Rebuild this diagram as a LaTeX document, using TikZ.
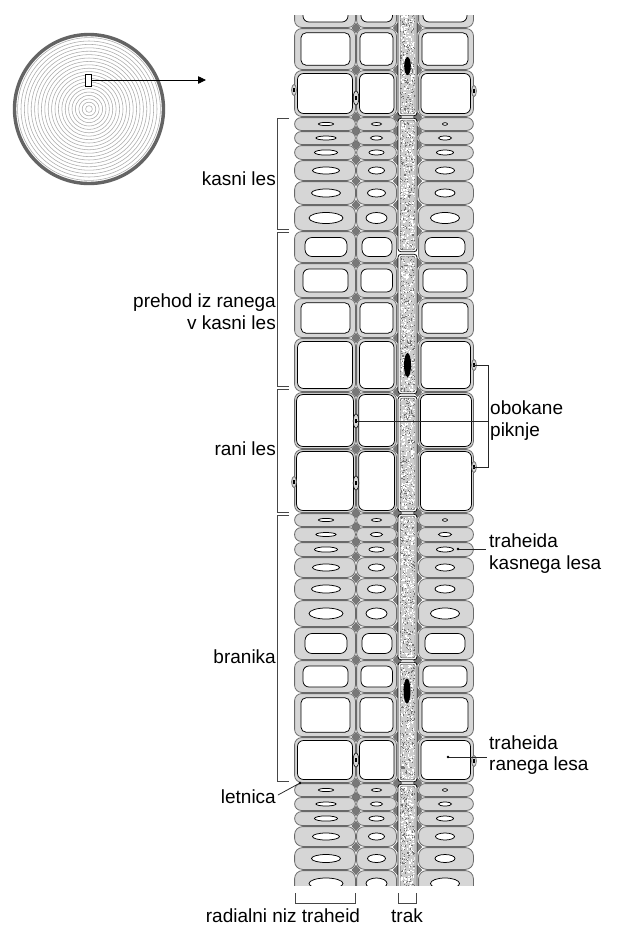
\documentclass[tikz,border=0pt]{standalone}
\usepackage{fontspec}
\setmainfont{Liberation Sans}
\usetikzlibrary{arrows.meta}
\definecolor{wallc}{RGB}{214,214,214}
\definecolor{walld}{RGB}{105,105,105}
\definecolor{diamc}{RGB}{120,120,120}
\definecolor{barkc}{RGB}{100,100,100}
\definecolor{ringc}{RGB}{170,170,170}
\definecolor{brkc}{RGB}{70,70,70}
\definecolor{rayc}{RGB}{205,205,205}
\newcommand\wallcell[5]{\path[wallbox, rounded corners=#5pt] (#1+0.6,#2+0.6) rectangle (#3-0.6,#4-0.6);}
\newcommand\lrow[9]{%
 \wallcell{294}{#1}{356}{#2}{#3}%
 \wallcell{356}{#1}{397}{#2}{#3}%
 \wallcell{418}{#1}{474}{#2}{#3}%
 \path[lumen] (326,{(#1+#2)/2}) ellipse [x radius=#4pt, y radius=#5pt];%
 \path[lumen] (376.5,{(#1+#2)/2}) ellipse [x radius=#6pt, y radius=#7pt];%
 \path[lumen] (445,{(#1+#2)/2}) ellipse [x radius=#8pt, y radius=#9pt];}
\newcommand\trowgen[9]{%
 \wallcell{294}{#1}{356}{#2}{7}%
 \wallcell{356}{#1}{397}{#2}{7}%
 \wallcell{418}{#1}{474}{#2}{7}%
 \path[lumen, rounded corners=\lr pt] (#4,#1+#3) rectangle (#5,#2-#3);%
 \path[lumen, rounded corners=\lr pt] (#6,#1+#3) rectangle (#7,#2-#3);%
 \path[lumen, rounded corners=\lr pt] (#8,#1+#3) rectangle (#9,#2-#3);}
\newcommand\tone[2]{\def\lr{7}\trowgen{#1}{#2}{6.5}{305}{347}{362}{392}{425}{465}}
\newcommand\ttwo[2]{\def\lr{6}\trowgen{#1}{#2}{6}{303}{348}{361}{392.5}{423}{467}}
\newcommand\tthree[2]{\def\lr{5}\trowgen{#1}{#2}{4.8}{301}{350}{360}{393}{422}{468}}
\newcommand\tfour[2]{\def\lr{6}\trowgen{#1}{#2}{3.5}{297.5}{352.5}{359.5}{394}{421}{470.5}}
\newcommand\erow[2]{\def\lr{6}\trowgen{#1}{#2}{2.6}{296.6}{353.4}{358.7}{394.5}{420.5}{471.5}}
\newcommand\lateset[7]{%
 \lrow{#1}{#2}{6.5}{7.5}{1.6}{5}{1.5}{2.5}{1.3}%
 \lrow{#2}{#3}{6.5}{10}{2}{6}{2}{6.5}{2}%
 \lrow{#3}{#4}{7}{11.5}{2.6}{7.5}{2.5}{8.5}{2.5}%
 \lrow{#4}{#5}{8}{13.5}{3.5}{8}{3.5}{9.5}{3.5}%
 \lrow{#5}{#6}{8}{14.5}{4}{9}{4}{10}{4}%
 \lrow{#6}{#7}{8}{17}{5.5}{10.5}{5.5}{14.5}{5.5}}
\newcommand\ipit[2]{\path[pitin] (#1,#2) ellipse [x radius=2.8pt, y radius=7pt]; \fill (#1-0.9,#2-1.7) rectangle (#1+0.9,#2+1.7);}
\newcommand\epit[2]{\path[pitout] (#1,#2) ellipse [x radius=2.4pt, y radius=5.5pt]; \fill (#1-0.9,#2-1.7) rectangle (#1+0.9,#2+1.7);}
\begin{document}
\begin{tikzpicture}[x=1pt,y=-1pt,
 wallbox/.style={fill=wallc, draw=walld, line width=0.8pt},
 lumen/.style={fill=white, draw=black, line width=0.75pt},
 diam/.style={fill=diamc, draw=walld, line width=0.4pt},
 pitin/.style={fill=wallc, draw=black, line width=0.6pt},
 pitout/.style={fill=wallc, draw=walld, line width=0.7pt},
 rayout/.style={fill=white, draw=black, line width=0.75pt, rounded corners=3pt},
 rayin/.style={draw=black!65, line width=0.5pt, rounded corners=2pt},
 nucleus/.style={fill=black},
 brk/.style={draw=brkc, line width=0.8pt},
 ldr/.style={draw=black!85, line width=0.75pt},
 dotm/.style={fill=black},
 lbl/.style={font=\fontsize{19}{22}\selectfont, inner sep=0pt},
 ring/.style={draw=ringc, line width=0.55pt},
 arr/.style={draw=black, line width=0.8pt, -{Triangle[length=8pt,width=7.5pt]}}
]
\fill[white] (0,0) rectangle (627,938);
\useasboundingbox (0,0) rectangle (627,938);

% ---------- cross section of the stem ----------
\coordinate (cc) at (89,109);
\foreach \i in {1,...,21}{\draw[ring] (cc) circle [radius=\i*3.4pt];}
\draw[barkc, line width=3.4pt] (cc) circle [radius=74.5pt];
\node[draw=black, fill=white, line width=0.7pt, minimum width=6.5pt, minimum height=12pt, inner sep=0pt] (sample) at (88.5,80) {};
\coordinate (arrtip) at (206,80);
\draw[arr] (sample.east) -- (arrtip);

% ---------- tissue ----------
\begin{scope}
\clip (285,15) rectangle (485,885);
\ttwo{-5}{28}
\tthree{28}{70}
\tfour{70}{117}
\lateset{117}{131}{145}{160}{181}{205}{231}
\tone{231}{263}
\ttwo{263}{298}
\tthree{298}{338}
\tfour{338}{392}
\erow{392}{449}
\erow{449}{513}
\lateset{513}{527}{542}{557}{578}{600}{627}
\tone{627}{660}
\ttwo{660}{693}
\tthree{693}{737}
\tfour{737}{783}
\lateset{783}{797}{811}{826}{847}{870}{897}
% intercellular corners
\foreach \y in {28,70,117,131,145,160,181,205,231,263,298,338,392,449,513,527,542,557,578,600,627,660,693,737,783,797,811,826,847,870}{
  \foreach \x in {356,397.5,417.5}{
    \path[diam] (\x,\y-4.6) -- (\x+4.2,\y) -- (\x,\y+4.6) -- (\x-4.2,\y) -- cycle;}}
% pits
\epit{294}{90}\ipit{356}{98}\epit{474}{91}
\epit{474}{365}
\ipit{356}{421}
\epit{294}{482}\ipit{356}{483}\epit{474}{467}
\ipit{356}{760}\epit{474}{761}
% ray
\foreach \t/\b in {-5/117,117/253,253/395,395/513,513/661,661/783,783/900}{
  \path[rayout] (398,\t+1.2) rectangle (417,\b-1.2);}
\begin{scope}
\clip[rounded corners=2pt] \foreach \t/\b in {-5/117,117/253,253/395,395/513,513/661,661/783,783/900}{ (400,\t+3.2) rectangle (415,\b-3.2) };
\fill[rayc] (399,10) rectangle (416,890);
\pgfmathsetseed{7}
\foreach \i in {1,...,1600}{\pgfmathsetmacro\rx{399+16*rnd}\pgfmathsetmacro\ry{12+876*rnd}\fill[black!55] (\rx,\ry) rectangle ++(1.1,1.1);}
\foreach \i in {1,...,1700}{\pgfmathsetmacro\rx{399+16*rnd}\pgfmathsetmacro\ry{12+876*rnd}\fill[white] (\rx,\ry) rectangle ++(1.3,1.3);}
\end{scope}
\foreach \t/\b in {-5/117,117/253,253/395,395/513,513/661,661/783,783/900}{
  \path[rayin] (400,\t+3.2) rectangle (415,\b-3.2);}
\fill[nucleus] (407.5,66) ellipse [x radius=3.3pt, y radius=9pt];
\fill[nucleus] (407.5,365) ellipse [x radius=3.5pt, y radius=12pt];
\fill[nucleus] (407,691) ellipse [x radius=3.5pt, y radius=12.5pt];
\end{scope}

% ---------- left brackets ----------
\draw[brk] (289,118) -- (277,118) -- (277,229) -- (289,229);
\draw[brk] (289,232) -- (277,232) -- (277,386) -- (289,386);
\draw[brk] (289,389) -- (277,389) -- (277,512) -- (289,512);
\draw[brk] (289,515) -- (277,515) -- (277,781) -- (289,781);
\node[lbl, anchor=base east] (kasni) at (276,185) {kasni les};
\node[lbl, anchor=base east] (prehodA) at (276,307) {prehod iz ranega};
\node[lbl, anchor=base east] (prehodB) at (276,329) {v kasni les};
\node[lbl, anchor=base east] (rani) at (276,455) {rani les};
\node[lbl, anchor=base east] (branika) at (276,663) {branika};
\node[lbl, anchor=base east] (letnica) at (276,803) {letnica};
\coordinate (letA) at (278,795);
\coordinate (letB) at (300,783);
\draw[ldr] (letA) -- (letB);
\fill[dotm] (letB) circle [radius=1.3pt];

% ---------- right labels ----------
\coordinate (pitA) at (473,365);
\coordinate (pitB) at (473,467);
\coordinate (pitC) at (357,421);
\coordinate (brA) at (488,365);
\coordinate (brB) at (488,467);
\coordinate (brC) at (488,421);
\draw[ldr] (pitA) -- (brA) -- (brB) -- (pitB);
\draw[ldr] (pitC) -- (brC);
\node[lbl, anchor=base west] (obokane) at (490,414) {obokane};
\node[lbl, anchor=base west] (piknje) at (490,436) {piknje};

\coordinate (tkA) at (458,549);
\coordinate (tkB) at (486,549);
\draw[ldr] (tkA) -- (tkB);
\fill[dotm] (tkA) circle [radius=1.3pt];
\node[lbl, anchor=base west] (trkA) at (489,547) {traheida};
\node[lbl, anchor=base west] (trkB) at (489,569) {kasnega lesa};

\coordinate (trA) at (448,757);
\coordinate (trB) at (487,757);
\draw[ldr] (trA) -- (trB);
\fill[dotm] (trA) circle [radius=1.3pt];
\node[lbl, anchor=base west] (trrA) at (489,749) {traheida};
\node[lbl, anchor=base west] (trrB) at (489,770) {ranega lesa};

% ---------- bottom brackets ----------
\draw[brk] (295,893) -- (295,903) -- (355,903) -- (355,893);
\draw[brk] (398,893) -- (398,903) -- (416,903) -- (416,893);
\node[lbl, anchor=base] (radial) at (283,922) {radialni niz traheid};
\node[lbl, anchor=base] (trak) at (407,922) {trak};
\end{tikzpicture}
\end{document}
